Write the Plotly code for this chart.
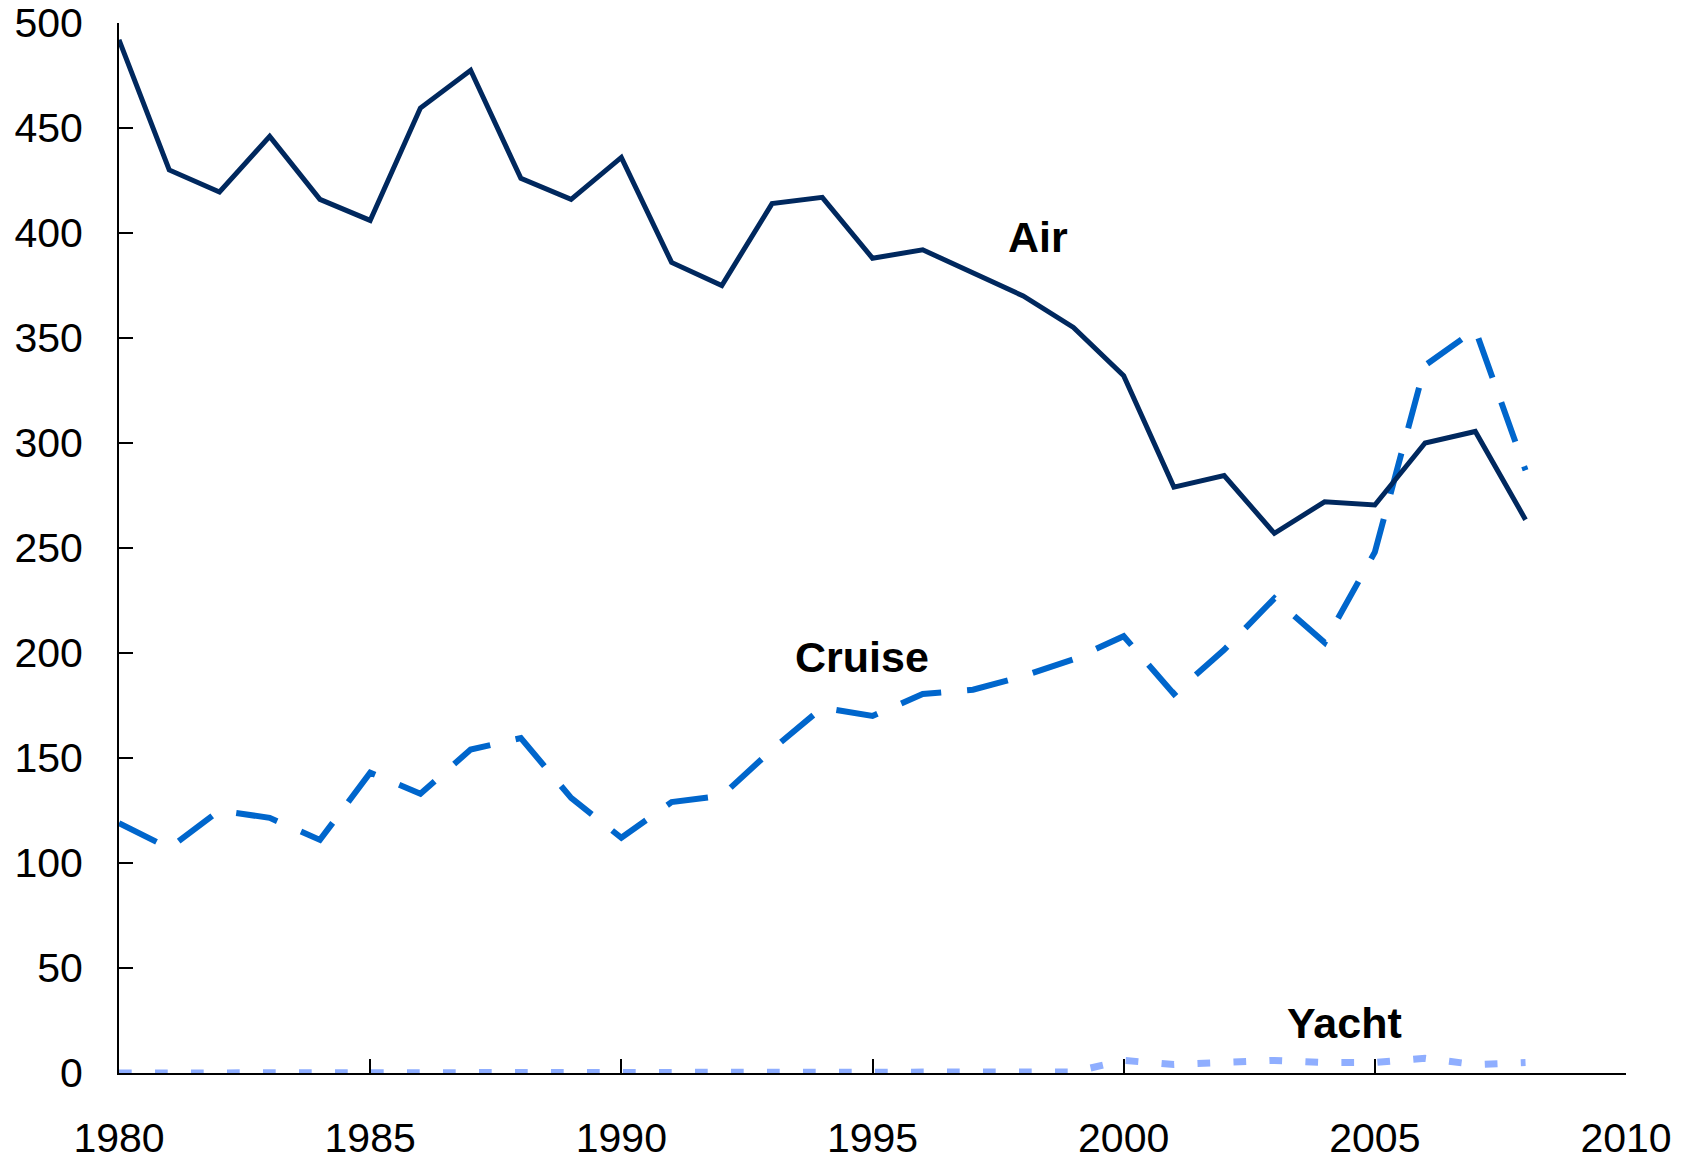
import plotly.graph_objects as go

years = list(range(1980, 2009))
air = [492, 430, 419.5, 446, 416, 406, 459.5, 477.5, 426, 416, 436, 386, 375, 414, 417,
       388, 392, 381, 370, 355, 332, 279, 284.5, 257, 272, 270.5, 300, 305.5, 263.5]
cruise = [119, 107, 125, 121.5, 111, 143, 133, 154, 159.5, 131, 112, 129, 132, 154, 174,
          170, 180.5, 182.5, 189, 197, 208, 180.5, 201.5, 226, 205, 248, 337, 354, 287]
yacht = [0, 0, 0, 0, 0, 0, 0, 0, 0, 0, 0, 0, 0, 0, 0,
         0, 0, 0, 0, 0.5, 6, 4, 5, 6, 5, 5, 7, 4, 5]

x_ticks = [1980, 1985, 1990, 1995, 2000, 2005, 2010]
y_ticks = [0, 50, 100, 150, 200, 250, 300, 350, 400, 450, 500]

labels = ["Air", "Cruise", "Yacht"]
label_x = [1998.3, 1994.8, 2004.4]
label_y = [398, 198, 24]

FONT = "Liberation Sans, Arial, Helvetica, sans-serif"

fig = go.Figure()
fig.add_trace(go.Scatter(x=years, y=yacht, mode="lines", name="Yacht", cliponaxis=False,
                         line=dict(color="#8FAEFF", width=7, dash="12.7px,23.3px")))
fig.add_trace(go.Scatter(x=years, y=cruise, mode="lines", name="Cruise",
                         line=dict(color="#0066CC", width=6, dash="42px,26px")))
fig.add_trace(go.Scatter(x=years, y=air, mode="lines", name="Air",
                         line=dict(color="#00285E", width=5)))

for t, xx, yy in zip(labels, label_x, label_y):
    fig.add_annotation(x=xx, y=yy, text=t, showarrow=False,
                       font=dict(family=FONT, size=43, color="black", weight="bold"))

fig.update_layout(
    width=1690, height=1165,
    margin=dict(l=119, r=64, t=23, b=92),
    paper_bgcolor="white", plot_bgcolor="white",
    showlegend=False,
    font=dict(family=FONT, size=41, color="black"),
)
fig.update_xaxes(range=[1980, 2010], tickvals=x_ticks, ticks="inside", ticklen=14,
                 tickwidth=2, tickcolor="black", showline=True, linewidth=2,
                 linecolor="black", showgrid=False, zeroline=False, automargin=False,
                 tickfont=dict(family=FONT, size=41, color="black"),
                 ticklabelstandoff=28, ticklabeloverflow="allow", layer="below traces")
fig.update_yaxes(range=[0, 500], tickvals=y_ticks, ticks="inside", ticklen=14,
                 tickwidth=2, tickcolor="black", showline=True, linewidth=2,
                 linecolor="black", showgrid=False, zeroline=False, automargin=False,
                 tickfont=dict(family=FONT, size=41, color="black"),
                 ticklabelstandoff=26, ticklabeloverflow="allow", layer="below traces")

fig.write_html("out.html", config={"displayModeBar": False},
               post_script="document.body.style.margin='0';document.body.style.overflow='hidden';")
